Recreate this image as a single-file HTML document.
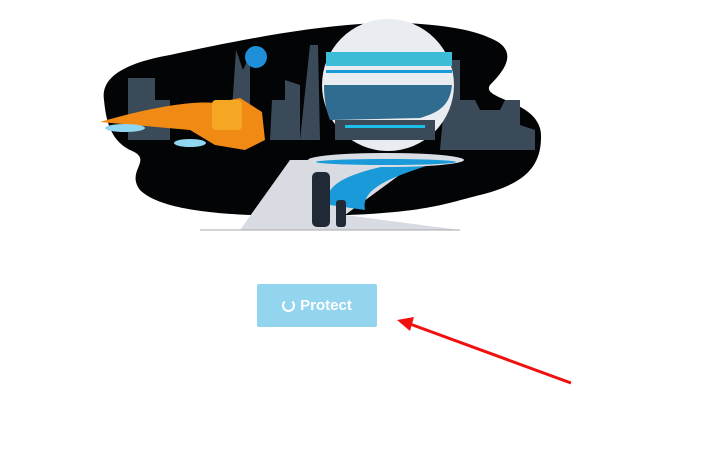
<!DOCTYPE html>
<html><head><style>
body{margin:0;background:#fff;width:706px;height:466px;overflow:hidden;position:relative;font-family:"Liberation Sans",sans-serif}
.btn{position:absolute;left:257px;top:284px;width:120px;height:43px;background:#93d4ef;border-radius:2px;color:#fff;font-weight:bold;font-size:15px;display:flex;align-items:center;justify-content:center;gap:5px}
.sp{width:9px;height:9px;border:2px solid #fff;border-top-color:transparent;border-radius:50%}
</style></head><body>
<svg width="706" height="466" style="position:absolute;left:0;top:0">
<path d="M104,100 C100,75 130,62 170,55 C230,42 300,28 360,24 C420,20 470,28 490,38 C520,50 505,70 490,85 C480,100 540,100 541,135 C542,170 520,185 480,195 C440,205 420,215 300,216 C220,216 160,210 140,190 C125,170 155,160 130,150 C110,140 106,120 104,100 Z" fill="#030405"/>
<path d="M128,140 L128,78 L155,78 L155,100 L170,100 L170,140 Z M230,140 L236,50 L243,70 L250,55 L250,140 Z M270,140 L272,100 L285,100 L285,80 L300,85 L300,140 Z M300,140 L310,45 L318,45 L320,140 Z M440,150 L445,95 L452,95 L452,60 L460,60 L460,100 L475,100 L480,110 L500,110 L505,100 L520,100 L520,125 L535,130 L535,150 Z" fill="#3b4a59"/>
<circle cx="256" cy="57" r="11" fill="#1e8fd8"/>
<path d="M240,230 L290,160 L420,160 L345,215 L460,230 Z" fill="#d9dbe2"/>
<path d="M330,205 C320,185 350,170 420,160 L450,158 C400,175 360,185 365,210 Z" fill="#1a9ad8"/>
<path d="M200,230 L460,230" stroke="#aaa" stroke-width="1"/>
<circle cx="388" cy="85" r="66" fill="#e9ecf1"/>
<path d="M324,85 L452,85 C450,105 440,112 420,118 L330,120 C325,108 324,95 324,85Z" fill="#2f6c8f"/>
<rect x="326" y="52" width="126" height="14" fill="#3cbcd6"/>
<rect x="326" y="70" width="126" height="3" fill="#1a9ad8"/>
<rect x="335" y="120" width="100" height="20" fill="#3b4a59"/>
<rect x="345" y="125" width="80" height="3" fill="#1cc0e8"/>
<ellipse cx="386" cy="160" rx="78" ry="7" fill="#d9dde4"/>
<ellipse cx="386" cy="162" rx="70" ry="3" fill="#1a9ad8"/>
<path d="M100,122 C140,110 190,100 215,103 L240,98 L262,112 L265,140 L245,150 L215,145 L190,130 Z" fill="#f08a14"/>
<rect x="212" y="100" width="30" height="30" rx="4" fill="#f5a623"/>
<ellipse cx="125" cy="128" rx="20" ry="4" fill="#8fd6ee"/>
<ellipse cx="190" cy="143" rx="16" ry="4" fill="#8fd6ee"/>
<rect x="312" y="172" width="18" height="55" rx="5" fill="#1f2a36"/>
<rect x="336" y="200" width="10" height="27" rx="3" fill="#1f2a36"/>
<line x1="571" y1="383" x2="410" y2="324" stroke="#f01010" stroke-width="3"/>
<polygon points="397,320 414,317 410,331" fill="#f01010"/>
</svg>
<div class="btn"><span class="sp"></span>Protect</div>
</body></html>
